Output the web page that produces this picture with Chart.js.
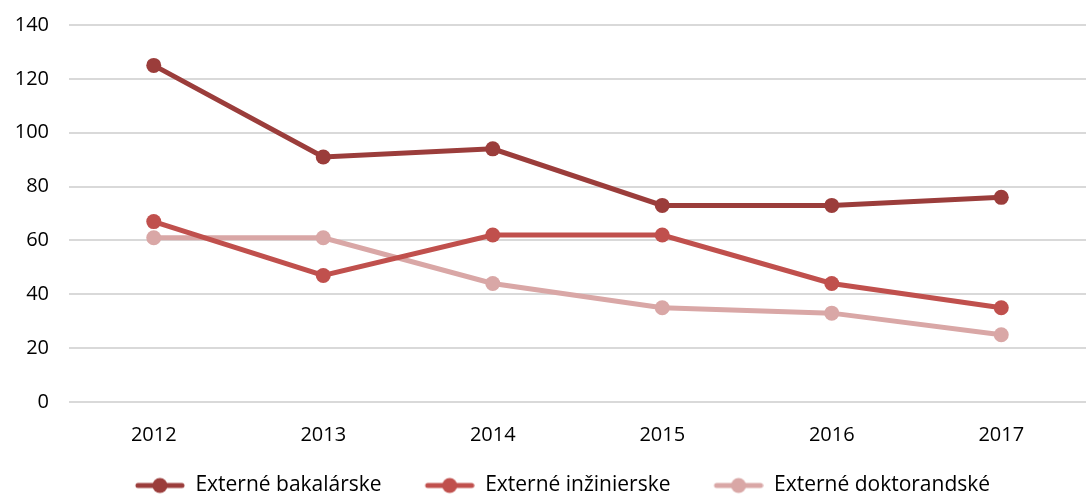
<!DOCTYPE html>
<html>
<head>
<meta charset="utf-8">
<script src="https://cdn.jsdelivr.net/npm/chart.js@4"></script>
<style>
  html, body { margin: 0; padding: 0; background: #fff; }
  #wrap { width: 1086px; height: 495px; }
</style>
</head>
<body>
<div id="wrap"><canvas id="chart"></canvas></div>
<script>
let years = ['2012', '2013', '2014', '2015', '2016', '2017'];
let bakalarske = [125, 91, 94, 73, 73, 76];
let inzinierske = [67, 47, 62, 62, 44, 35];
let doktorandske = [61, 61, 44, 35, 33, 25];

let colors = ['#9b3d3b', '#c0504d', '#d9a7a6'];

// legend marker: line with a dot in the middle (blank strip on the left for spacing)
function marker(color)
{
    let c = document.createElement('canvas');
    c.width = 65;
    c.height = 18;
    let ctx = c.getContext('2d');
    ctx.strokeStyle = color;
    ctx.lineWidth = 5;
    ctx.lineCap = 'round';
    ctx.beginPath();
    ctx.moveTo(18, 9);
    ctx.lineTo(62, 9);
    ctx.stroke();
    ctx.fillStyle = color;
    ctx.beginPath();
    ctx.arc(40, 9, 7.5, 0, Math.PI * 2);
    ctx.fill();
    return c;
}

function series(label, data, color)
{
    return {
        label: label,
        data: data,
        borderColor: color,
        backgroundColor: color,
        borderWidth: 5,
        pointRadius: 7.5,
        pointHoverRadius: 7.5,
        pointBorderWidth: 0,
        pointStyle: 'circle',
        tension: 0,
        legendMarker: marker(color)
    };
}

let datasets = [
    series('Externé bakalárske', bakalarske, colors[0]),
    series('Externé inžinierske', inzinierske, colors[1]),
    series('Externé doktorandské', doktorandske, colors[2])
];

Chart.defaults.font.family = '"Open Sans", sans-serif';
Chart.defaults.color = '#000';

new Chart(document.getElementById('chart'), {
    type: 'line',
    data: { labels: years, datasets: datasets },
    options: {
        responsive: true,
        maintainAspectRatio: false,
        animation: false,
        layout: {
            autoPadding: false,
            padding: { left: 13, right: -11, top: 0, bottom: -11 }
        },
        plugins: {
            tooltip: { enabled: false },
            legend: {
                position: 'bottom',
                labels: {
                    usePointStyle: true,
                    pointStyleWidth: 65,
                    font: { size: 21 },
                    padding: 28,
                    generateLabels: function (chart)
                    {
                        return chart.data.datasets.map((d, i) => ({
                            text: d.label,
                            pointStyle: d.legendMarker,
                            fillStyle: d.borderColor,
                            strokeStyle: d.borderColor,
                            lineWidth: 0,
                            datasetIndex: i,
                            hidden: false
                        }));
                    }
                }
            }
        },
        scales: {
            x: {
                offset: true,
                grid: { display: false },
                border: { display: false },
                ticks: { font: { size: 20 }, padding: 13 },
                afterFit: function (scale)
                {
                    scale.height = 45;
                    scale.paddingLeft = 0;
                    scale.paddingRight = 0;
                }
            },
            y: {
                min: 0,
                max: 140,
                ticks: { stepSize: 20, font: { size: 20 }, padding: 20 },
                grid: { color: '#d9d9d9', lineWidth: 2, drawTicks: false },
                border: { display: false },
                afterFit: function (scale)
                {
                    scale.width = 56;
                    scale.paddingTop = 25;
                    scale.paddingBottom = 0;
                }
            }
        }
    }
});
</script>
</body>
</html>
